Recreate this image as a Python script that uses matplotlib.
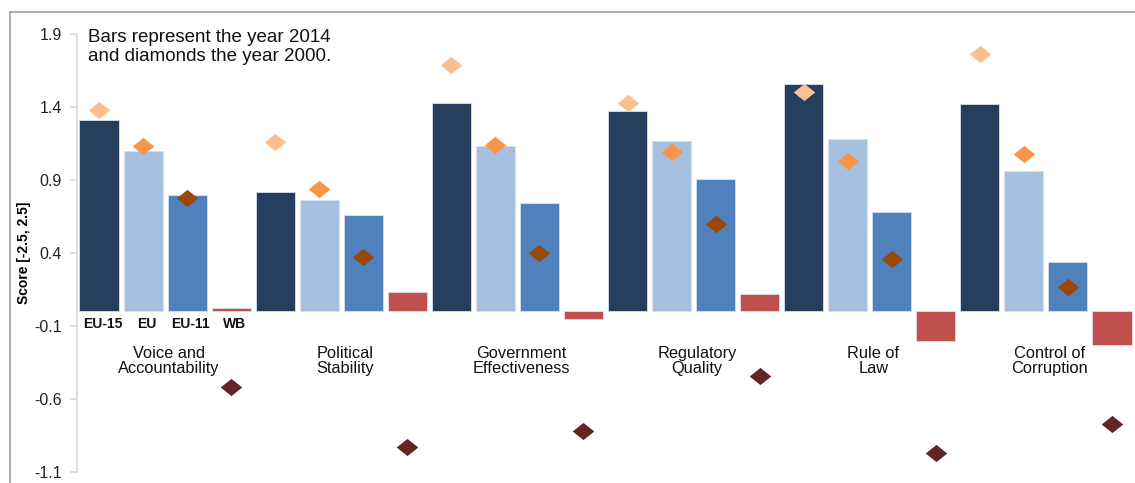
import matplotlib
matplotlib.use("Agg")
import matplotlib.pyplot as plt
from matplotlib.lines import Line2D
import numpy as np

plt.rcParams['font.family'] = ['Liberation Sans', 'DejaVu Sans']

categories = ["Voice and\nAccountability", "Political\nStability", "Government\nEffectiveness",
              "Regulatory\nQuality", "Rule of\nLaw", "Control of\nCorruption"]
series = ["EU-15", "EU", "EU-11", "WB"]

# 2014 values (bars)
eu15_2014 = [1.31, 0.82, 1.43, 1.37, 1.56, 1.42]
eu_2014   = [1.10, 0.76, 1.13, 1.17, 1.18, 0.96]
eu11_2014 = [0.80, 0.66, 0.74, 0.91, 0.68, 0.34]
wb_2014   = [0.02, 0.13, -0.05, 0.12, -0.20, -0.23]

# 2000 values (diamonds)
eu15_2000 = [1.38, 1.16, 1.69, 1.43, 1.50, 1.76]
eu_2000   = [1.13, 0.84, 1.14, 1.09, 1.03, 1.08]
eu11_2000 = [0.78, 0.37, 0.40, 0.60, 0.36, 0.17]
wb_2000   = [-0.52, -0.93, -0.82, -0.44, -0.97, -0.77]

yticks = [1.9, 1.4, 0.9, 0.4, -0.1, -0.6, -1.1]
ytick_labels = ["1.9", "1.4", "0.9", "0.4", "-0.1", "-0.6", "-1.1"]

bar_colors = ["#263F5F", "#A7BFDF", "#4F81BD", "#C0504D"]
dia_colors = ["#FAC090", "#F79646", "#984807", "#632523"]

bars = [eu15_2014, eu_2014, eu11_2014, wb_2014]
dias = [eu15_2000, eu_2000, eu11_2000, wb_2000]

fig = plt.figure(figsize=(11.35, 4.83), dpi=100)
W, H = 1135, 483
ax = fig.add_axes([77 / W, 1 - 472 / H, (1134 - 77) / W, (472 - 34) / H])

x = np.arange(len(categories))
offsets = [-0.375, -0.125, 0.125, 0.375]
width = 0.222
diamond = [(-1, 0), (0, 0.8), (1, 0), (0, -0.8), (-1, 0)]

for k in range(4):
    ax.bar(x + offsets[k], bars[k], width=width, color=bar_colors[k],
           edgecolor="#D9E1EA", linewidth=0.6, zorder=2)
for k in range(4):
    ax.plot(x + offsets[k], dias[k], linestyle="none", marker=diamond,
            markersize=15.5, color=dia_colors[k], markeredgewidth=0, zorder=3)

ax.set_xlim(-0.5, 5.5)
ax.set_ylim(-1.1, 1.9)
ax.set_yticks(yticks)
ax.set_yticklabels(ytick_labels, fontsize=11.5, color="#222222")
ax.set_xticks([])
for s in ["top", "right", "bottom"]:
    ax.spines[s].set_visible(False)
ax.spines["left"].set_color("#D9D9D9")
ax.spines["left"].set_linewidth(1.2)
ax.tick_params(axis="y", length=5, color="#D9D9D9", width=1.2, pad=6)

ax.set_ylabel("Score [-2.5, 2.5]", fontsize=10, fontweight="bold")
ax.yaxis.set_label_coords(-0.0435, 0.5)

# series labels under first group
for k in range(4):
    ax.text(x[0] + offsets[k] + 0.02, -0.085, series[k], ha="center", va="center",
            fontsize=10, fontweight="bold", color="#111111")

# category labels
for i, c in enumerate(categories):
    ax.text(x[i] + 0.02, -0.34, c, ha="center", va="center", fontsize=11.8,
            linespacing=0.95, color="#111111")

ax.text(88 / W, 1 - 47 / H, "Bars represent the year 2014\nand diamonds the year 2000.",
        transform=fig.transFigure, ha="left", va="center", fontsize=13.5,
        linespacing=1.08, color="#111111")

# outer frame lines
fig.add_artist(Line2D([10 / W, 1.0], [1 - 12 / H, 1 - 12 / H], transform=fig.transFigure,
                      color="#A0A0A0", linewidth=1.2))
fig.add_artist(Line2D([10 / W, 10 / W], [0, 1 - 12 / H], transform=fig.transFigure,
                      color="#A0A0A0", linewidth=1.2))

fig.savefig("out.png", dpi=100)
